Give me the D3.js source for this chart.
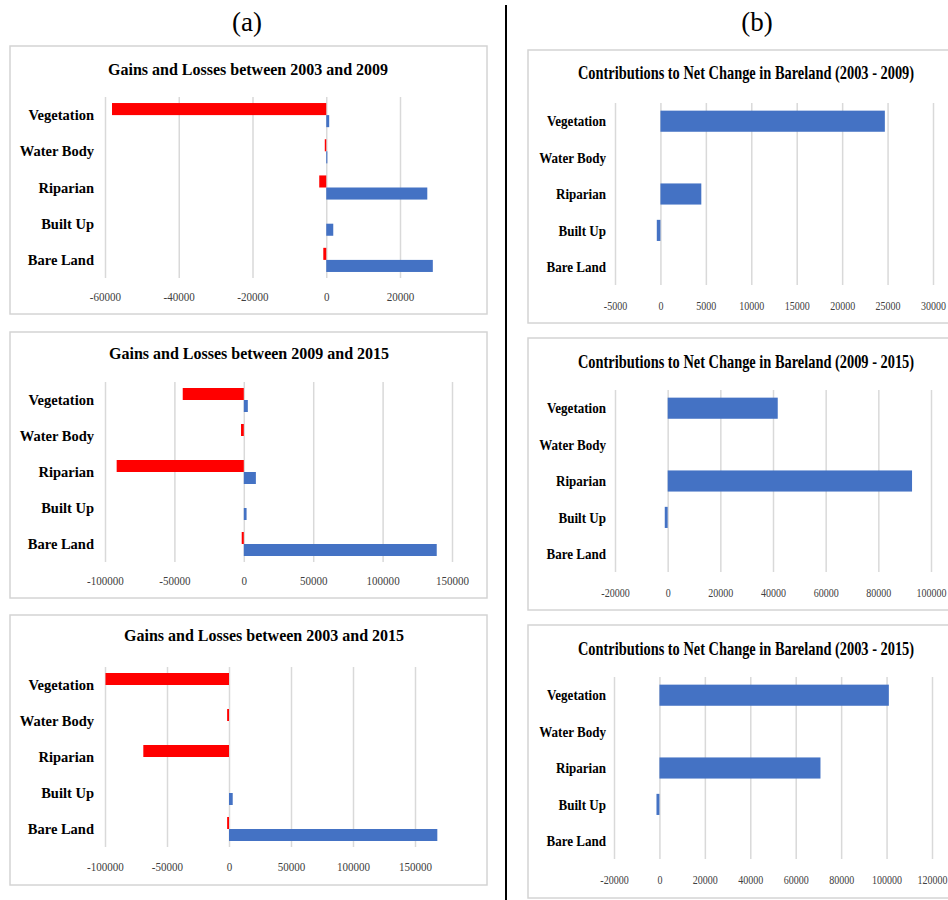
<!DOCTYPE html>
<html>
<head>
<meta charset="utf-8">
<script src="https://cdn.jsdelivr.net/npm/d3@7"></script>
<style>
  html, body { margin: 0; padding: 0; background: #fff; }
  svg { display: block; }
  svg text { font-family: "Liberation Serif", "Times New Roman", serif !important; }
</style>
</head>
<body>
<script>
// Land-cover classes, listed top to bottom
const categories = ["Vegetation", "Water Body", "Riparian", "Built Up", "Bare Land"];

// (a) Gains and losses per class
const losses0309 = [-58100, -400, -1900, 0, -800];
const gains0309  = [800, 300, 27400, 1900, 28900];
const ticks0309  = [-60000, -40000, -20000, 0, 20000];

const losses0915 = [-44000, -2000, -91600, 0, -1500];
const gains0915  = [2900, 0, 8700, 2000, 139000];
const ticks0915  = [-100000, -50000, 0, 50000, 100000, 150000];

const losses0315 = [-99600, -1500, -69100, 0, -1500];
const gains0315  = [0, 0, 0, 3000, 168000];
const ticks0315  = [-100000, -50000, 0, 50000, 100000, 150000];

// (b) Contributions to net change in bare land
const net0309      = [24700, 0, 4500, -400, 0];
const netTicks0309 = [-5000, 0, 5000, 10000, 15000, 20000, 25000, 30000];

const net0915      = [41800, 0, 92800, -1100, 0];
const netTicks0915 = [-20000, 0, 20000, 40000, 60000, 80000, 100000];

const net0315      = [101000, 0, 70900, -1300, 0];
const netTicks0315 = [-20000, 0, 20000, 40000, 60000, 80000, 100000, 120000];

const RED = "#ff0000", BLUE = "#4472c4", GRID = "#d9d9d9", BORDER = "#d4d4d4";
const SERIF = '"Liberation Serif", "Times New Roman", serif';

const svg = d3.select("body").append("svg")
  .attr("width", 948).attr("height", 900);
svg.append("rect").attr("width", 948).attr("height", 900).attr("fill", "#fff");

// Column headers and divider
svg.append("text").attr("x", 247).attr("y", 31).attr("text-anchor", "middle")
  .attr("font-family", SERIF).attr("font-size", 27).attr("fill", "#000").text("(a)");
svg.append("text").attr("x", 757).attr("y", 31).attr("text-anchor", "middle")
  .attr("font-family", SERIF).attr("font-size", 27).attr("fill", "#000").text("(b)");
svg.append("line").attr("x1", 506).attr("x2", 506).attr("y1", 5).attr("y2", 900)
  .attr("stroke", "#000").attr("stroke-width", 2);

// Text with an optional horizontal squeeze
function label(g, x, y, str, o) {
  return g.append("text")
    .attr("transform", `translate(${x},${y}) scale(${o.sx || 1},1)`)
    .attr("text-anchor", o.anchor || "middle")
    .attr("dy", o.dy || 0)
    .attr("font-family", SERIF)
    .attr("font-size", o.size)
    .attr("font-weight", o.weight || "normal")
    .attr("fill", o.fill || "#000")
    .text(str);
}

function panel(cfg) {
  const g = svg.append("g");
  const [bx0, by0, bx1, by1] = cfg.box;
  g.append("rect").attr("x", bx0).attr("y", by0)
    .attr("width", bx1 - bx0).attr("height", by1 - by0)
    .attr("fill", "#fff").attr("stroke", BORDER).attr("stroke-width", 1.5);

  label(g, cfg.titleX, cfg.titleY, cfg.title,
        { size: cfg.titleSize, weight: "bold", sx: cfg.titleSx, dy: "0.35em" });

  const ticks = cfg.ticks;
  const x = d3.scaleLinear()
    .domain([ticks[0], ticks[ticks.length - 1]])
    .range(cfg.xRange);
  const y = d3.scaleBand().domain(categories).range(cfg.yRange);
  const plotH = cfg.yRange[1] - cfg.yRange[0];

  // Value axis with full-height gridlines
  const axis = g.append("g")
    .attr("transform", `translate(0,${cfg.yRange[1]})`)
    .call(d3.axisBottom(x).tickValues(ticks).tickSize(-plotH)
      .tickPadding(0).tickFormat(d => String(d)))
    .attr("font-family", SERIF);
  axis.select(".domain").remove();
  axis.selectAll(".tick line").attr("stroke", GRID).attr("stroke-width", 1.5);
  axis.selectAll(".tick text")
    .attr("y", null)
    .attr("transform", `translate(0,${cfg.tickDy}) scale(${cfg.tickSx},1)`)
    .attr("dy", "0.35em")
    .attr("font-family", SERIF)
    .attr("font-size", 13).attr("fill", "#404040");

  // Category labels
  categories.forEach(c => {
    label(g, cfg.catX, y(c) + y.bandwidth() / 2, c,
          { size: cfg.catSize, weight: "bold", sx: cfg.catSx, anchor: "end", dy: "0.35em" });
  });

  // Bars
  const series = cfg.series;
  const inner = d3.scaleBand()
    .domain(series.map(s => s.key))
    .range(cfg.innerRange.map(f => f * y.bandwidth()));
  series.forEach(s => {
    g.append("g").selectAll("rect")
      .data(categories.map((c, i) => ({ c, v: s.values[i] })))
      .join("rect")
      .attr("x", d => Math.min(x(0), x(d.v)))
      .attr("width", d => Math.abs(x(d.v) - x(0)))
      .attr("y", d => y(d.c) + inner(s.key))
      .attr("height", inner.bandwidth())
      .attr("fill", s.color);
  });
}

// (a) panels
panel({
  box: [10, 46, 487, 314], title: "Gains and Losses between 2003 and 2009",
  titleX: 248, titleY: 69, titleSize: 16, titleSx: 1,
  ticks: ticks0309, xRange: [105, 400], yRange: [97, 278], tickDy: 18, tickSx: 0.85,
  catX: 94, catSize: 14.5, catSx: 1, innerRange: [1 / 6, 5 / 6],
  series: [{ key: "loss", values: losses0309, color: RED },
           { key: "gain", values: gains0309, color: BLUE }]
});
panel({
  box: [10, 332, 487, 598], title: "Gains and Losses between 2009 and 2015",
  titleX: 249, titleY: 353, titleSize: 16, titleSx: 1,
  ticks: ticks0915, xRange: [105, 452], yRange: [382, 562], tickDy: 18, tickSx: 0.85,
  catX: 94, catSize: 14.5, catSx: 1, innerRange: [1 / 6, 5 / 6],
  series: [{ key: "loss", values: losses0915, color: RED },
           { key: "gain", values: gains0915, color: BLUE }]
});
panel({
  box: [10, 615, 487, 885], title: "Gains and Losses between 2003 and 2015",
  titleX: 264, titleY: 635, titleSize: 16, titleSx: 1,
  ticks: ticks0315, xRange: [105, 415], yRange: [667, 847], tickDy: 19, tickSx: 0.85,
  catX: 94, catSize: 14.5, catSx: 1, innerRange: [1 / 6, 5 / 6],
  series: [{ key: "loss", values: losses0315, color: RED },
           { key: "gain", values: gains0315, color: BLUE }]
});

// (b) panels
panel({
  box: [528, 50, 962, 323], title: "Contributions to Net Change in Bareland (2003 - 2009)",
  titleX: 746, titleY: 73, titleSize: 18, titleSx: 0.8,
  ticks: netTicks0309, xRange: [615, 933], yRange: [103, 285], tickDy: 20, tickSx: 0.77,
  catX: 606, catSize: 15, catSx: 0.87, innerRange: [0.21, 0.79],
  series: [{ key: "net", values: net0309, color: BLUE }]
});
panel({
  box: [528, 338, 962, 610], title: "Contributions to Net Change in Bareland (2009 - 2015)",
  titleX: 746, titleY: 362, titleSize: 18, titleSx: 0.8,
  ticks: netTicks0915, xRange: [615, 931], yRange: [390, 572], tickDy: 20, tickSx: 0.77,
  catX: 606, catSize: 15, catSx: 0.87, innerRange: [0.21, 0.79],
  series: [{ key: "net", values: net0915, color: BLUE }]
});
panel({
  box: [528, 625, 962, 898], title: "Contributions to Net Change in Bareland (2003 - 2015)",
  titleX: 746, titleY: 649, titleSize: 18, titleSx: 0.8,
  ticks: netTicks0315, xRange: [614, 932], yRange: [677, 859], tickDy: 20, tickSx: 0.77,
  catX: 606, catSize: 15, catSx: 0.87, innerRange: [0.21, 0.79],
  series: [{ key: "net", values: net0315, color: BLUE }]
});
</script>
</body>
</html>
